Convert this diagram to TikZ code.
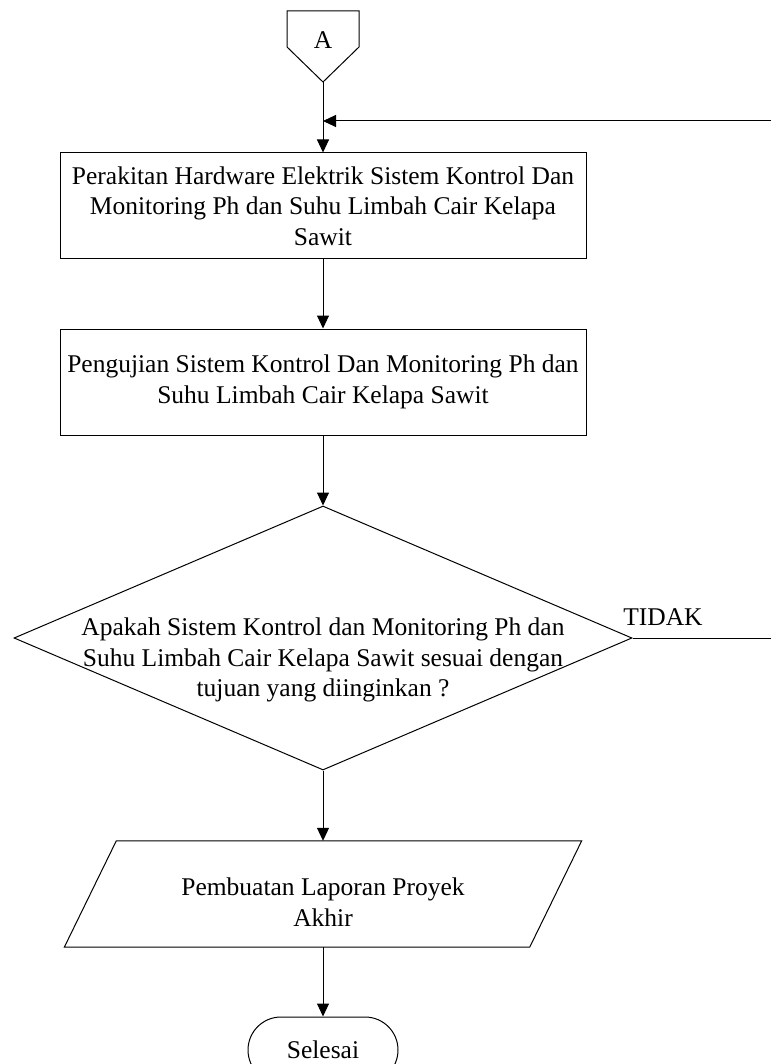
\documentclass[tikz,border=0pt]{standalone}
\usepackage{fontspec}
\setmainfont{Liberation Serif}
\usetikzlibrary{arrows.meta, shapes.geometric}

\begin{document}
\begin{tikzpicture}[x=1pt, y=-1pt,
    box/.style={draw, rectangle, minimum width=526pt, minimum height=106pt,
                align=center, font=\fontsize{25.5}{30.5}\selectfont, line width=1pt},
    decision/.style={draw, diamond, minimum width=618pt, minimum height=264pt,
                     inner sep=0pt, line width=1pt},
    term/.style={draw, rectangle, rounded corners=33pt, minimum width=150pt,
                 minimum height=66pt, font=\fontsize{25.5}{30.5}\selectfont, line width=1pt},
    txt/.style={align=center, font=\fontsize{25.5}{30.5}\selectfont},
    arr/.style={-{Triangle[length=13pt, width=12pt]}, line width=1pt},
  ]
  \useasboundingbox (0,0) rectangle (771,1064);
  \clip (0,0) rectangle (771,1064);

  % off-page connector
  \draw[line width=1pt] (287,11) -- (359,11) -- (359,47) -- (323,82) -- (287,47) -- cycle;
  \node[txt] (conA) at (323,40) {A};
  \coordinate (tipA) at (323,82);

  % process steps
  \node[box] (build) at (323,206)
    {Perakitan Hardware Elektrik Sistem Kontrol Dan\\Monitoring Ph dan Suhu Limbah Cair Kelapa\\Sawit};
  \node[box] (test) at (323,382)
    {Pengujian Sistem Kontrol Dan Monitoring Ph dan\\Suhu Limbah Cair Kelapa Sawit};

  % decision
  \node[decision] (check) at (323,638) {};
  \node[txt] (checktext) at (323,660)
    {Apakah Sistem Kontrol dan Monitoring Ph dan\\Suhu Limbah Cair Kelapa Sawit sesuai dengan\\tujuan yang diinginkan ?};
  \node[txt] (no) at (663,617) {TIDAK};

  % output
  \node[minimum width=465pt, minimum height=106pt] (report) at (323,894) {};
  \draw[line width=1pt] ([xshift=26pt]report.north west) -- ([xshift=26pt]report.north east)
    -- ([xshift=-26pt]report.south east) -- ([xshift=-26pt]report.south west) -- cycle;
  \node[txt] (reporttext) at (323,902) {Pembuatan Laporan Proyek\\Akhir};

  \node[term] (finish) at (323,1050) {Selesai};

  % connectors
  \coordinate (backR) at (771,121);
  \coordinate (backJ) at (323,121);
  \coordinate (noR)   at (771,638);
  \draw[arr] (tipA)   -- (build);
  \draw[arr] (backR)  -- (backJ);
  \draw[arr] (build)  -- (test);
  \draw[arr] (test)   -- (check);
  \draw[line width=1pt] (check.east) -- (noR);
  \draw[arr] (check)  -- (report);
  \draw[arr] (report) -- (finish);
\end{tikzpicture}
\end{document}
